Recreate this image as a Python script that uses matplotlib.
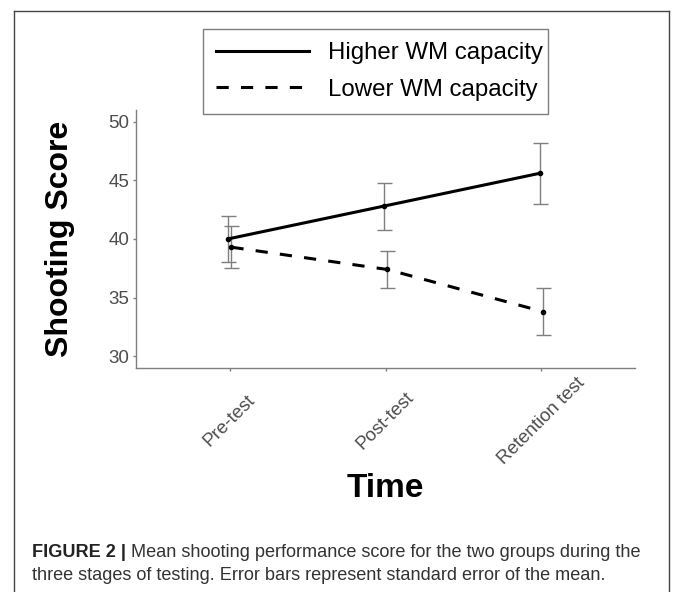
import matplotlib
matplotlib.use("Agg")
import matplotlib.pyplot as plt
from matplotlib.lines import Line2D
from matplotlib import font_manager
import numpy as np

# ---- data ----
stages = ["Pre-test", "Post-test", "Retention test"]
higher_mean = [40.0, 42.8, 45.6]
higher_se = [2.0, 2.0, 2.6]
lower_mean = [39.3, 37.4, 33.8]
lower_se = [1.8, 1.6, 2.0]
group_labels = ["Higher WM capacity", "Lower WM capacity"]
y_ticks = [30, 35, 40, 45, 50]

W, H = 673, 592
DPI = 100
plt.rcParams['font.family'] = ['Liberation Sans', 'DejaVu Sans']

fig = plt.figure(figsize=(W / DPI, H / DPI), dpi=DPI)
fig.patch.set_facecolor("white")

# axes placement in pixels
ax_l, ax_r, ax_t, ax_b = 136, 635, 110, 368
ax = fig.add_axes([ax_l / W, 1 - ax_b / H, (ax_r - ax_l) / W, (ax_b - ax_t) / H])

x = np.arange(len(stages))
dodge = 0.012
grey = "#7f7f7f"

for means, ses, ls, off in [(higher_mean, higher_se, "-", -dodge),
                            (lower_mean, lower_se, (0, (4, 4)), dodge)]:
    xs = x + off
    ax.errorbar(xs, means, yerr=ses, fmt="none", ecolor=grey, elinewidth=1.0,
                capsize=5.4, capthick=1.0, zorder=2)
    ax.plot(xs, means, color="black", lw=2.2, linestyle=ls, zorder=3,
            solid_capstyle="butt", dash_capstyle="butt")
    ax.plot(xs, means, "o", color="black", ms=3.0, zorder=4)

ax.set_xlim(-0.6, len(stages) - 1 + 0.6)
ax.set_ylim(29, 51)
ax.set_yticks(y_ticks)
ax.set_yticklabels([str(t) for t in y_ticks])
ax.set_xticks(x)
ax.set_xticklabels(stages, rotation=45, ha="center", va="center",
                   rotation_mode="default")

for s in ["top", "right"]:
    ax.spines[s].set_visible(False)
for s in ["left", "bottom"]:
    ax.spines[s].set_color(grey)
    ax.spines[s].set_linewidth(1.0)

ax.tick_params(axis="both", colors=grey, length=2.2, width=1.0,
               labelsize=13.5, labelcolor="#4d4d4d")
ax.tick_params(axis="y", pad=2.5)
ax.tick_params(axis="x", pad=36)

ax.set_ylabel("Shooting Score", fontsize=23, fontweight="bold", va="center")
ax.yaxis.set_label_coords(-0.1523, 0.5)
ax.set_xlabel("Time", fontsize=24, fontweight="bold", va="baseline")
ax.xaxis.set_label_coords(0.5, -0.5)

# legend
handles = [Line2D([0], [0], color="black", lw=2.2, linestyle="-"),
           Line2D([0], [0], color="black", lw=2.2, linestyle=(0, (4, 4)))]
leg_fs = 17.3
leg_w_px = 345
leg = fig.legend(handles, group_labels, loc="upper left",
                 bbox_to_anchor=(203 / W, 1 - 29 / H, leg_w_px / W, 0.0001),
                 mode="expand", fontsize=leg_fs,
                 frameon=True, fancybox=False, framealpha=1,
                 edgecolor=grey, handlelength=3.87, handletextpad=0.79,
                 borderpad=0.55, labelspacing=0.6, borderaxespad=0)
leg.get_frame().set_linewidth(1.0)

# outer border
bc = "#444444"
for (x0, y0, x1, y1) in [(14, 11, 14, H + 5), (14, 11, 669, 11), (669, 11, 669, H + 5)]:
    fig.add_artist(Line2D([x0 / W, x1 / W], [1 - y0 / H, 1 - y1 / H],
                          transform=fig.transFigure, color=bc, lw=1.0))

# caption
names = {f.name for f in font_manager.fontManager.ttflist}
cap_fam = ["Liberation Sans Narrow", "Liberation Sans"] if "Liberation Sans Narrow" in names else ["Liberation Sans"]
renderer = fig.canvas.get_renderer()
line1_b = "FIGURE 2 |"
line1_r = " Mean shooting performance score for the two groups during the"
line2 = "three stages of testing. Error bars represent standard error of the mean."
cap_x0, target_w = 32, 613

def width_px(txt, size, weight):
    t = fig.text(0, 0, txt, fontsize=size, fontweight=weight, family=cap_fam)
    w = t.get_window_extent(renderer).width
    t.remove()
    return w

base = 14
w_tot = width_px(line1_b, base, "bold") + width_px(line1_r, base, "normal")
cap_size = base * target_w / w_tot
wb = width_px(line1_b, cap_size, "bold")
fig.text(cap_x0 / W, 1 - 557 / H, line1_b, fontsize=cap_size, fontweight="bold",
         family=cap_fam, color="#222222", va="baseline")
fig.text((cap_x0 + wb) / W, 1 - 557 / H, line1_r, fontsize=cap_size,
         family=cap_fam, color="#333333", va="baseline")
fig.text(cap_x0 / W, 1 - 580 / H, line2, fontsize=cap_size,
         family=cap_fam, color="#333333", va="baseline")

fig.savefig("out.png", dpi=DPI, facecolor="white")
